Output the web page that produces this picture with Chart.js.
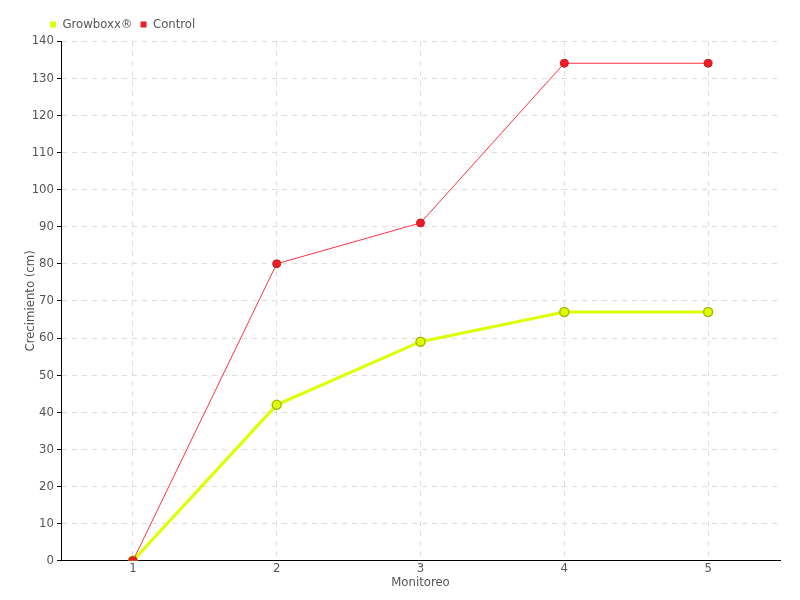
<!DOCTYPE html>
<html>
<head>
<meta charset="utf-8">
<script src="https://cdn.jsdelivr.net/npm/chart.js@4"></script>
<style>
  html, body { margin: 0; padding: 0; background: #fff; }
  #wrap { width: 800px; height: 600px; }
</style>
</head>
<body>
<div id="wrap"><canvas id="lineChart"></canvas></div>
<script>
var monitoreos = ["1", "2", "3", "4", "5"];
var growboxxData = [0, 42, 59, 67, 67];
var controlData = [0, 80, 91, 134, 134];

Chart.defaults.font.family = "'DejaVu Sans Condensed', 'Liberation Sans Narrow', sans-serif";
Chart.defaults.font.size = 13;
Chart.defaults.color = "#555";

var ctx1 = document.getElementById("lineChart").getContext("2d");
var myChart = new Chart(ctx1, {
    type: "line",
    data: {
        labels: monitoreos,
        datasets: [
            {
                label: "Growboxx®",
                data: growboxxData,
                backgroundColor: "#ddff00",
                borderColor: "#ddff00",
                borderWidth: 3,
                pointBackgroundColor: "#ddff00",
                pointBorderColor: "#a8b800",
                pointRadius: 4.5,
                pointBorderWidth: 1.5,
                tension: 0,
                order: 1
            },
            {
                label: "Control",
                data: controlData,
                backgroundColor: "#ee1c25",
                borderColor: "#ff3344",
                borderWidth: 1,
                pointBackgroundColor: "#ee1c25",
                pointBorderColor: "#cc1a22",
                pointRadius: 4,
                pointBorderWidth: 1,
                tension: 0,
                order: 0
            }
        ]
    },
    options: {
        responsive: true,
        maintainAspectRatio: false,
        animation: false,
        layout: {
            padding: { left: 10, right: 20, top: 10, bottom: 10 }
        },
        plugins: {
            legend: {
                align: "start",
                labels: {
                    color: "#555",
                    boxWidth: 6,
                    boxHeight: 6,
                    padding: 8,
                    font: { size: 13 },
                    sort: function(a, b) { return a.datasetIndex - b.datasetIndex; },
                    generateLabels: function(chart) {
                        var items = Chart.defaults.plugins.legend.labels.generateLabels(chart);
                        items.forEach(function(it) { it.lineWidth = 0; });
                        return items;
                    }
                }
            },
            tooltip: { enabled: false }
        },
        scales: {
            y: {
                min: 0,
                max: 140,
                ticks: {
                    stepSize: 10,
                    color: "#555",
                    padding: 3
                },
                title: {
                    display: true,
                    text: "Crecimiento (cm)",
                    color: "#555",
                    padding: { top: 13, bottom: 0 }
                },
                border: { color: "#000", width: 1, dash: [5, 5] },
                grid: {
                    color: "#dddddd",
                    tickColor: "#000",
                    tickLength: 4,
                    tickBorderDash: [1, 0]
                },
                afterFit: function(scale) { scale.width = 51; }
            },
            x: {
                offset: true,
                ticks: { color: "#555", padding: 0 },
                title: {
                    display: true,
                    text: "Monitoreo",
                    color: "#555",
                    padding: { top: -2, bottom: 0 }
                },
                border: { color: "#000", width: 1, dash: [5, 5] },
                grid: {
                    offset: false,
                    color: "#dddddd",
                    drawTicks: false
                }
            }
        }
    },
    plugins: [{
        id: "legendShift",
        afterLayout: function(chart) {
            chart.legend.left += 32;
        }
    }]
});
</script>
</body>
</html>
